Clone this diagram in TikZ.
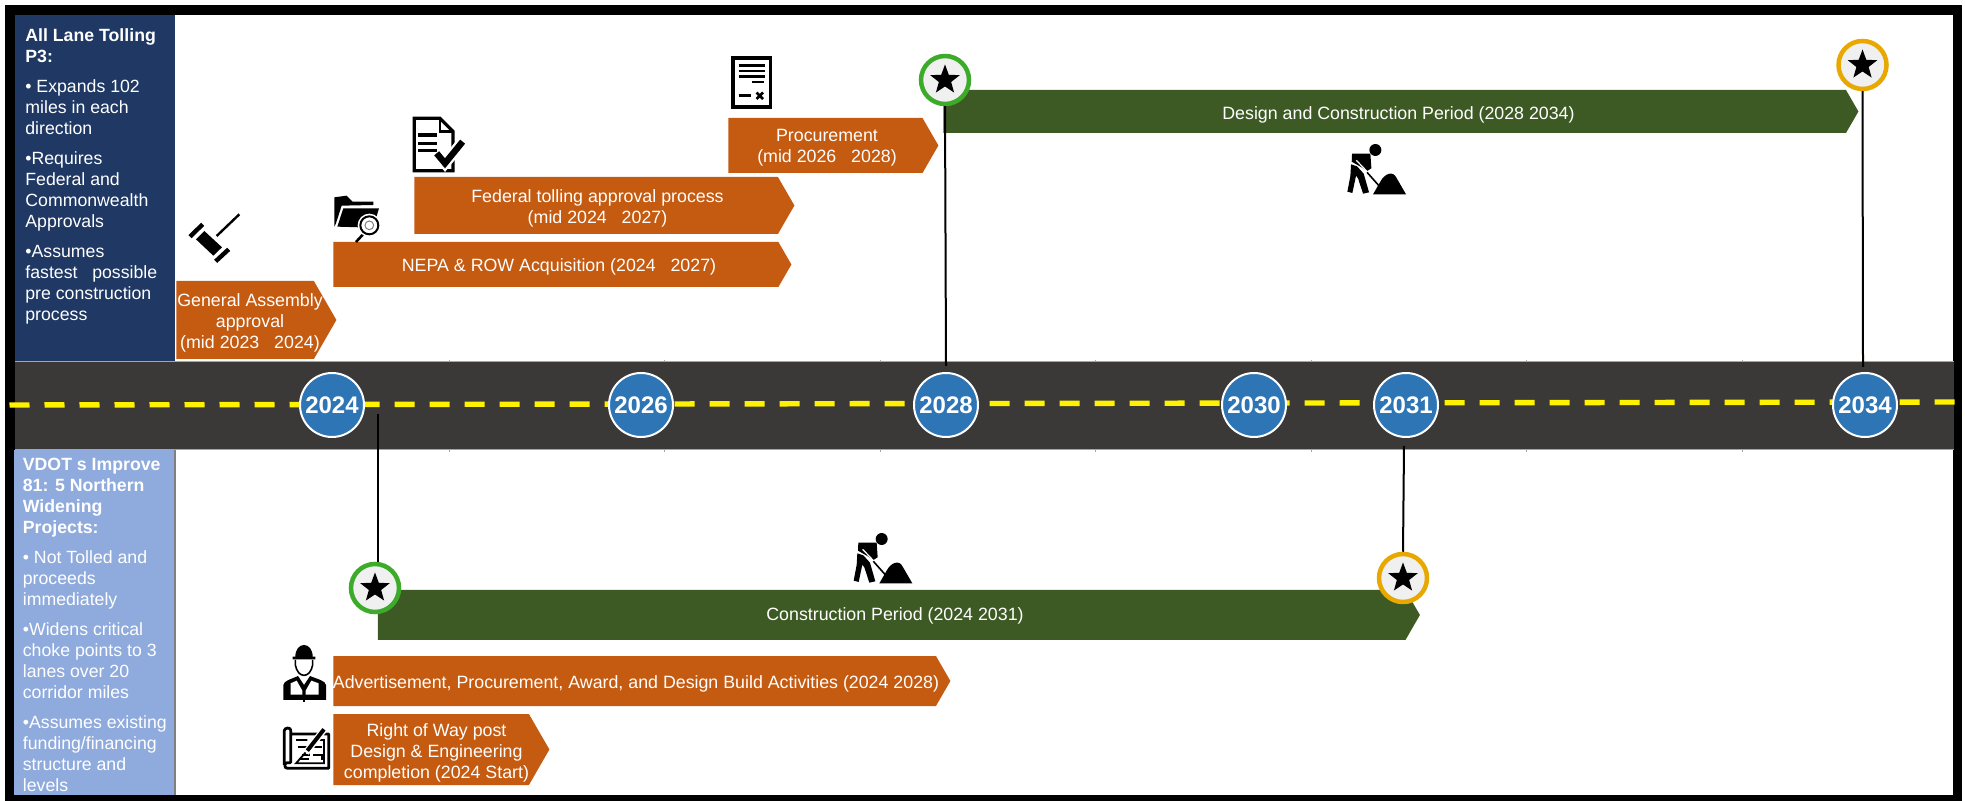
\documentclass[tikz,border=0pt]{standalone}
\usepackage{fontspec}
\setmainfont{Liberation Sans}
\usetikzlibrary{positioning,shapes.geometric,shapes.symbols}

\definecolor{navypanel}{HTML}{1F3864}
\definecolor{skypanel}{HTML}{8FAADC}
\definecolor{roadgray}{HTML}{3B3838}
\definecolor{yearblue}{HTML}{2E75B6}
\definecolor{barorange}{HTML}{C55A11}
\definecolor{bargreen}{HTML}{3D5A24}
\definecolor{startgreen}{HTML}{3CAB2A}
\definecolor{endamber}{HTML}{E8A800}

\tikzset{
    zoomgrid/.style={x=1pt/6,y=-1pt/6},
    bar/.style={shape=signal,signal to=east,signal pointer angle=120,inner sep=0pt,anchor=west},
    orangebar/.style={bar,fill=barorange},
    greenbar/.style={bar,fill=bargreen},
    barlabel/.style={text=white,align=center,yshift=-1pt,font=\fontsize{8.9}{10.5}\selectfont},
    paneltext/.style={text=white,align=left,anchor=north west,inner sep=0pt,font=\fontsize{8.85}{10.5}\selectfont},
    year/.style={circle,draw=white,line width=1pt,fill=yearblue,text=white,minimum size=32pt,inner sep=0pt,font=\fontsize{12}{12}\selectfont\bfseries},
    milestone/.style={circle,line width=2.25pt,fill=black!6,minimum size=24pt,inner sep=0pt},
    starmark/.style={star,star points=5,star point ratio=2.4,fill=black,minimum size=15.5pt,inner sep=0pt},
    stem/.style={draw=black,line width=1pt},
    digger/.pic={
        \begin{scope}[zoomgrid]
            \fill (155,57) circle (18);
            \fill (85,68) -- (140,68) -- (143,112) -- (130,120) -- (112,108) -- (84,92) -- cycle;
            \fill (82,100) -- (100,106) -- (120,128) -- (136,184) -- (118,188) -- (103,142) -- (97,134) -- (86,186) -- (71,182) -- (80,135) -- cycle;
            \draw[white,line width=.6pt] (98,88) -- (138,130);
            \draw[line width=.8pt] (130,124) -- (178,178);
            \fill (148,190) -- (170,152) .. controls (182,128) and (208,118) .. (218,140) -- (247,190) -- cycle;
        \end{scope}
    },
}

\begin{document}
\begin{tikzpicture}[x=.5pt,y=-.5pt]
    \useasboundingbox (0,0) rectangle (1965,801);
    \fill[white] (0,0) rectangle (1965,801);

    % frame and side panels
    \fill[black] (4.5,5) rectangle (1961.5,801);
    \fill[white] (15,15) rectangle (1953,795);
    \fill[navypanel] (15,15) rectangle (175,362);
    \fill[skypanel] (14,450) rectangle (174,795);
    \draw[gray,line width=.6pt] (175,450) -- (175,795);

    \node[paneltext] (tolltext) at (25,28) {\textbf{All Lane Tolling}\\\textbf{P3:}\\[4.5pt]
        • Expands 102\\miles in each\\direction\\[4.5pt]
        •Requires\\Federal and\\Commonwealth\\Approvals\\[4.5pt]
        •Assumes\\fastest\ \ \ possible\\pre construction\\process};
    \node[paneltext] (widentext) at (22.5,458) {\textbf{VDOT s Improve}\\\textbf{81: 5 Northern}\\\textbf{Widening}\\\textbf{Projects:}\\[4.5pt]
        • Not Tolled and\\proceeds\\immediately\\[4.5pt]
        •Widens critical\\choke points to 3\\lanes over 20\\corridor miles\\[4.5pt]
        •Assumes existing\\funding/financing\\structure and\\levels};

    % road
    \fill[roadgray] (15,362) rectangle (1954,450);
    \draw[gray!70,line width=.5pt] (15,362) -- (1954,362) (15,450) -- (1954,450);
    \foreach \tickx in {449,664,880,1095,1311,1526,1742}
        \draw[gray!70,line width=.5pt] (\tickx,360) -- (\tickx,362) (\tickx,450) -- (\tickx,452);
    \draw[yellow,line width=2.7pt,dash pattern=on 10pt off 7.5pt] (9.5,405) -- (1960,402);

    \foreach \yr/\yrx in {2024/332,2026/641,2028/946,2030/1254,2031/1406,2034/1865}
        \node[year] (y\yr) at (\yrx,405) {\yr};

    % bars
    \node[orangebar,minimum width=80pt,minimum height=39pt] (assemblybar) at (176,320) {};
    \node[orangebar,minimum width=229pt,minimum height=22.5pt] (neparbar) at (333,264.5) {};
    \node[orangebar,minimum width=190pt,minimum height=28.5pt] (federalbar) at (414,205.5) {};
    \node[orangebar,minimum width=105pt,minimum height=27.5pt] (procurebar) at (728,145.5) {};
    \node[greenbar,minimum width=457.5pt,minimum height=21.5pt] (designbar) at (943,111.5) {};
    \node[greenbar,minimum width=521pt,minimum height=25pt] (buildbar) at (377.5,615) {};
    \node[orangebar,minimum width=308.5pt,minimum height=25pt] (advertbar) at (333,681) {};
    \node[orangebar,minimum width=108pt,minimum height=35.5pt] (rightbar) at (333,749.5) {};

    \node[barlabel] (assemblytext) at (250,321) {General Assembly\\approval\\(mid 2023\ \ \ 2024)};
    \node[barlabel] (nepatext) at (559,265) {NEPA \& ROW Acquisition (2024\ \ \ 2027)};
    \node[barlabel] (federaltext) at (597.5,206.5) {Federal tolling approval process\\(mid 2024\ \ \ 2027)};
    \node[barlabel] (procuretext) at (827,146) {Procurement\\(mid 2026\ \ \ 2028)};
    \node[barlabel] (designtext) at (1398.5,112.5) {Design and Construction Period (2028 2034)};
    \node[barlabel] (buildtext) at (895,614) {Construction Period (2024 2031)};
    \node[barlabel] (adverttext) at (636,681.5) {Advertisement, Procurement, Award, and Design Build Activities (2024 2028)};
    \node[barlabel] (righttext) at (436.5,751) {Right of Way post\\Design \& Engineering\\completion (2024 Start)};

    % milestones
    \node[milestone,draw=startgreen] (designstart) at (945,80) {};
    \node[milestone,draw=endamber] (designend) at (1862.5,65) {};
    \node[milestone,draw=startgreen] (buildstart) at (375,588) {};
    \node[milestone,draw=endamber] (buildend) at (1403,578) {};
    \foreach \ms in {designstart,designend,buildstart,buildend}
        \node[starmark] (\ms star) at (\ms) {};

    \coordinate (foot2028) at (946,366);
    \coordinate (foot2034) at (1863,367);
    \coordinate (foot2024) at (377.5,414);
    \coordinate (foot2031) at (1404,446);
    \draw[stem] (designstart.south) -- (foot2028);
    \draw[stem] (designend.south) -- (foot2034);
    \draw[stem] (foot2024) -- (foot2024 |- buildstart.north);
    \draw[stem] (foot2031) -- (buildend.north);

    % icons
    \pic at (830,520) {digger};
    \pic at (1323.7,131) {digger};

    % gavel
    \begin{scope}[shift={(170,190)},zoomgrid]
        \draw[line width=1.2pt] (140,138) -- (208,73);
        \fill (78,148) -- (103,123) -- (156,172) -- (130,197) -- cycle;
        \draw[line width=2.2pt] (60,140) -- (98,103);
        \draw[line width=2.2pt] (137,214) -- (176,178);
        % folder
        \fill (493,110) -- (493,22) -- (530,17) -- (548,35) -- (610,35) -- (610,45) -- (515,47) -- (498,100) -- cycle;
        \fill (502,110) -- (520,55) -- (627,55) -- (612,105) -- (570,112) -- cycle;
        \draw[line width=1.3pt] (558,156) -- (582,130);
        \fill[white] (598,106) circle (35);
        \draw[line width=1pt] (598,106) circle (27);
        \draw[line width=.5pt,gray] (598,106) circle (13);
    \end{scope}

    % checked document
    \begin{scope}[zoomgrid]
        \draw[line width=1.6pt,line join=miter] (1243,355) -- (1320,355) -- (1359,394) -- (1359,512) -- (1243,512) -- cycle;
        \draw[line width=1.2pt] (1320,355) -- (1320,394) -- (1359,394);
        \foreach \liney in {405,430,452}
            \draw[line width=1.6pt] (1255,\liney) -- (1310,\liney);
        \draw[white,line width=5.5pt] (1308,458) -- (1335,490) -- (1388,425);
        \draw[line width=3.2pt] (1310,460) -- (1335,490) -- (1388,425);
    \end{scope}

    % contract sheet
    \draw[line width=1.7pt] (733,58) rectangle (770.5,107);
    \foreach \liney in {65.7,71.3,76.7}
        \draw[line width=1.2pt] (738.7,\liney) -- (764.7,\liney);
    \draw[line width=1.2pt] (752,82.3) -- (763.6,82.3);
    \draw[line width=1.2pt] (738.7,95.7) -- (751.3,95.7);
    \draw[line width=1.4pt] (756.5,92.5) -- (763,99) (763,92.5) -- (756.5,99);

    % engineer and blueprint
    \begin{scope}[shift={(270,640)},zoomgrid]
        \fill (68,58) -- (68,50) -- (76,50) .. controls (76,28) and (88,15) .. (102,15) .. controls (116,15) and (128,28) .. (128,50) -- (136,50) -- (136,58) -- cycle;
        \draw[line width=.8pt] (76,60) -- (76,75) .. controls (80,95) and (90,106) .. (102,106) .. controls (114,106) and (124,95) .. (128,75) -- (128,60);
        \fill (40,180) -- (40,135) .. controls (42,122) and (62,118) .. (84,108) -- (102,135) -- (120,108) .. controls (144,118) and (166,122) .. (168,135) -- (168,180) -- cycle;
        \fill[white] (62,130) -- (80,122) -- (97,152) -- (97,164) -- (62,164) -- cycle;
        \fill[white] (146,130) -- (124,122) -- (107,152) -- (107,164) -- (146,164) -- cycle;
        \draw[line width=.8pt] (102,150) -- (102,186);
        \draw[line width=1.4pt,line join=round] (62,282) -- (176,282) -- (176,385) -- (52,385) .. controls (42,385) and (42,368) .. (52,368) -- (62,368) -- (62,270) .. controls (62,262) and (43,262) .. (43,272) -- (43,375);
        \draw[line width=.9pt] (78,300) -- (112,300) (140,300) -- (162,300) -- (162,370) -- (78,370) -- cycle;
        \draw[line width=.9pt] (85,320) -- (118,320) -- (118,345) -- (95,345) (130,320) -- (155,320) (130,345) -- (155,345) -- (155,360) (88,358) -- (118,358);
        \draw[white,line width=3.4pt] (108,338) -- (164,266);
        \draw[line width=2pt] (112,332) -- (162,268);
    \end{scope}
\end{tikzpicture}
\end{document}
